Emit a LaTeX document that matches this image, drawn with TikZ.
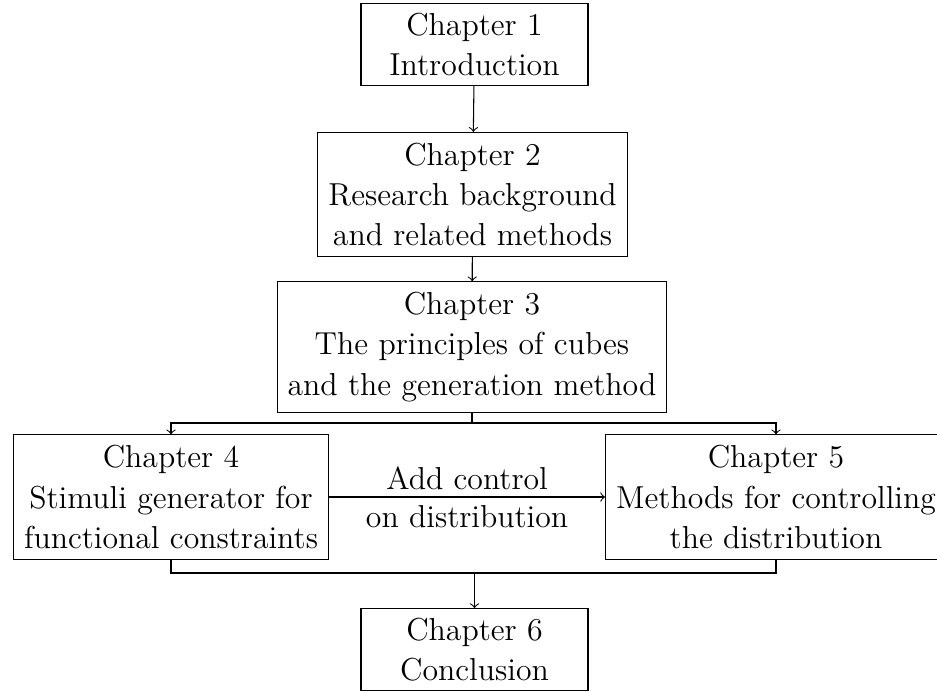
\documentclass[tikz,border=0pt,12pt]{standalone}
\newcommand{\pxlen}{0.378pt}
\begin{document}
\begin{tikzpicture}[x=0.378pt,y=-0.378pt,
  chapbox/.style={draw,align=center,inner sep=4pt,line width=0.4pt,
    font=\fontsize{12}{15.2}\selectfont},
  widebox/.style={chapbox,inner ysep=3.5pt,minimum width=227*\pxlen},
  link/.style={->,line width=0.4pt}]
\useasboundingbox (0,0) rectangle (937,691);
% chapter boxes
\node[widebox] (c1) at (474.5,44.5)
  {Chapter 1\\Introduction};
\node[chapbox] (c2) at (472.5,194.5)
  {Chapter 2\\Research background\\and related methods};
\node[chapbox] (c3) at (472,347)
  {Chapter 3\\The principles of cubes\\and the generation method};
\node[chapbox] (c4) at (171,497)
  {Chapter 4\\Stimuli generator for\\functional constraints};
\node[chapbox] (c5) at (776,497)
  {Chapter 5\\Methods for controlling\\the distribution};
\node[widebox] (c6) at (474.5,649.5)
  {Chapter 6\\Conclusion};
% junction points of the branching lines
\coordinate (split) at (472,423);
\coordinate (merge) at (474.5,573);
% connectors
\draw[link] (c1) -- (c2);
\draw[link] (c2) -- (c3);
\draw (c3.south) -- (split);
\draw[link] (split) -| (c4.north);
\draw[link] (split) -| (c5.north);
\draw[link] (c4) -- node[align=center,inner sep=1pt,
  font=\fontsize{12}{14.5}\selectfont] {Add control\\on distribution} (c5);
\draw (c4.south) |- (merge) -| (c5.south);
\draw[link] (merge) -- (c6.north);
\end{tikzpicture}
\end{document}
